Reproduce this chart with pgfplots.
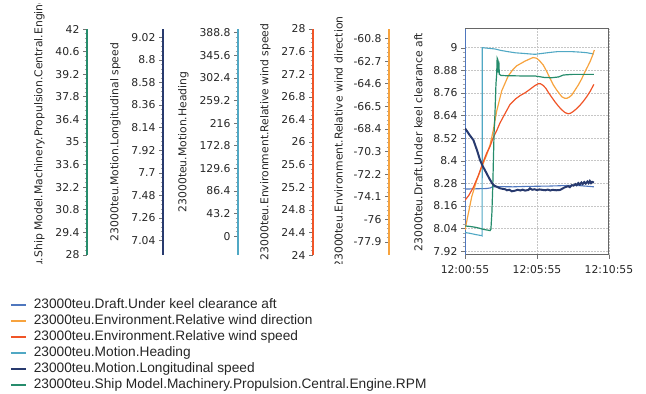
\documentclass[border=0pt]{standalone}
\usepackage{pgfplots}
\pgfplotsset{compat=1.18}
\usepackage{fontspec}
\setmainfont{DejaVu Sans}
\newfontfamily\legfont{Liberation Sans}
\definecolor{draftc}{RGB}{79,119,190}
\definecolor{dirc}{RGB}{247,163,62}
\definecolor{spdc}{RGB}{240,85,40}
\definecolor{headc}{RGB}{80,168,196}
\definecolor{longc}{RGB}{40,58,110}
\definecolor{rpmc}{RGB}{38,140,108}
\newcommand{\axfont}{\fontsize{10.8}{12.5}\selectfont}
\pgfplotsset{
  sideaxis/.style={scale only axis, width=20pt, height=226pt, anchor=south west,
    xmin=0, xmax=1, axis x line=none, axis y line=left,
    y axis line style={-, draw=#1, line width=1.6pt},
    tick align=outside, major tick length=4pt, minor tick length=2.5pt, minor y tick num=4,
    major tick style={black!55, line width=0.6pt}, minor tick style={black!35, line width=0.5pt},
    yticklabel style={font=\axfont, text=black!85},
    ylabel style={font=\axfont, text=black!85}, ylabel shift=4pt,
  },
  overlay/.style={at={(465pt,139pt)}, anchor=south west, scale only axis,
    width=144pt, height=226pt, xmin=0, xmax=600, hide axis},
}
\begin{document}
\begin{tikzpicture}[x=1pt,y=1pt]
\useasboundingbox (0,0) rectangle (646,394);
\begin{scope}
\clip (0,130) rectangle (462,390);
% RPM axis
\begin{axis}[sideaxis=rpmc, at={(87pt,139pt)}, ymin=28, ymax=42,
  ytick={28,29.4,30.8,32.2,33.6,35,36.4,37.8,39.2,40.6,42},
  yticklabels={28,29.4,30.8,32.2,33.6,35,36.4,37.8,39.2,40.6,42},
  ylabel={23000teu.Ship Model.Machinery.Propulsion.Central.Engine.RPM}]
\end{axis}
% Longitudinal speed axis
\begin{axis}[sideaxis=longc, at={(163pt,139pt)}, ymin=6.9, ymax=9.1,
  ytick={7.04,7.26,7.48,7.7,7.92,8.14,8.36,8.58,8.8,9.02},
  yticklabels={7.04,7.26,7.48,7.7,7.92,8.14,8.36,8.58,8.8,9.02},
  ylabel={23000teu.Motion.Longitudinal speed}]
\end{axis}
% Heading axis
\begin{axis}[sideaxis=headc, at={(238pt,139pt)}, ymin=-36, ymax=396,
  ytick={0,43.2,86.4,129.6,172.8,216,259.2,302.4,345.6,388.8},
  yticklabels={0,43.2,86.4,129.6,172.8,216,259.2,302.4,345.6,388.8},
  ylabel={23000teu.Motion.Heading}]
\end{axis}
% Relative wind speed axis
\begin{axis}[sideaxis=spdc, at={(313pt,139pt)}, ymin=24, ymax=28,
  ytick={24,24.4,24.8,25.2,25.6,26,26.4,26.8,27.2,27.6,28},
  yticklabels={24,24.4,24.8,25.2,25.6,26,26.4,26.8,27.2,27.6,28},
  ylabel={23000teu.Environment.Relative wind speed}]
\end{axis}
% Relative wind direction axis
\begin{axis}[sideaxis=dirc, at={(389pt,139pt)}, ymin=-79, ymax=-60,
  ytick={-77.9,-76,-74.1,-72.2,-70.3,-68.4,-66.5,-64.6,-62.7,-60.8},
  yticklabels={-77.9,-76,-74.1,-72.2,-70.3,-68.4,-66.5,-64.6,-62.7,-60.8},
  ylabel={23000teu.Environment.Relative wind direction}]
\end{axis}
\end{scope}
% Main axis: draft
\begin{axis}[at={(465pt,139pt)}, anchor=south west, scale only axis,
  width=144pt, height=226pt, xmin=0, xmax=600, ymin=7.9, ymax=9.1,
  xtick={0,300,600}, xticklabels={12:00:55,12:05:55,12:10:55},
  ytick={7.92,8.04,8.16,8.28,8.4,8.52,8.64,8.76,8.88,9},
  yticklabels={7.92,8.04,8.16,8.28,8.4,8.52,8.64,8.76,8.88,9},
  xtick pos=bottom, ytick pos=left, tick align=outside,
  major tick length=4pt, minor tick length=2.5pt, minor y tick num=4,
  major tick style={black!55, line width=0.6pt}, minor tick style={black!35, line width=0.5pt},
  grid=major, grid style={gray!45, line width=0.9pt, dash pattern=on 2pt off 1pt},
  axis line style={black!60, line width=1pt},
  ticklabel style={font=\axfont, text=black!85},
  xticklabel style={yshift=-3pt},
  ylabel style={font=\axfont, text=black!85}, ylabel shift=4pt,
  ylabel={23000teu.Draft.Under keel clearance aft}]
\addplot[draftc, line width=1.1pt] coordinates {(0,8.25) (30,8.251) (60,8.252) (90,8.253) (105,8.256) (115,8.262) (150,8.263) (200,8.262) (250,8.264) (300,8.265) (350,8.266) (400,8.268) (450,8.27) (480,8.268) (510,8.265) (537,8.262)};
\draw[draftc, line width=1.8pt] (rel axis cs:0,0) -- (rel axis cs:0,1);
\end{axis}
% Heading
\begin{axis}[overlay, ymin=-36, ymax=396]
\addplot[headc, line width=1.1pt] coordinates {(0,7) (20,5.5) (45,3) (70,1) (71.5,0.5) (72,360.3) (100,359) (125,357.8) (150,355) (180,352.6) (210,350.5) (236,349.6) (265,348.5) (292,347.6) (326,349.6) (350,351) (382,352.6) (420,352.8) (450,352.6) (480,351.8) (507,350.7) (537,348.2)};
\end{axis}
% Wind direction
\begin{axis}[overlay, ymin=-79, ymax=-60]
\addplot[dirc, line width=1.2pt] coordinates {(0,-76.9) (14,-75.5) (28,-74.1) (49,-72.7) (70,-71.6) (90,-70.6) (105,-69.7) (118,-68.5) (132,-66.9) (153,-65.2) (180,-63.95) (200,-63.4) (215,-63.1) (250,-62.7) (283,-62.4) (299,-62.46) (312,-62.7) (326,-63.03) (340,-63.55) (354,-64.14) (368,-64.7) (382,-65.13) (403,-65.69) (415,-65.82) (424,-65.83) (435,-65.72) (445,-65.55) (458,-65.15) (472,-64.71) (486,-64.2) (500,-63.59) (510,-63.2) (521,-62.75) (530,-62.3) (539,-61.77)};
\end{axis}
% Wind speed
\begin{axis}[overlay, ymin=24, ymax=28]
\addplot[spdc, line width=1.2pt] coordinates {(0,24.97) (15,25.05) (35,25.2) (55,25.4) (76,25.65) (90,25.8) (104,25.92) (118,26.08) (132,26.2) (145,26.33) (160,26.45) (187,26.66) (210,26.76) (229,26.82) (250,26.87) (270,26.93) (292,27.0) (305,27.03) (315,27.03) (326,27.0) (337,26.95) (347,26.88) (360,26.8) (375,26.71) (390,26.63) (403,26.57) (417,26.52) (430,26.5) (440,26.51) (451,26.54) (465,26.59) (479,26.65) (493,26.72) (507,26.8) (522,26.9) (537,27.02)};
\end{axis}
% RPM
\begin{axis}[overlay, ymin=28, ymax=42]
\addplot[rpmc, line width=1.2pt] coordinates {(0,29.8) (20,29.77) (42,29.72) (60,29.66) (76,29.59) (95,29.54) (104,29.51) (108,29.6) (112,30.6) (116,32.4) (121,35.5) (125,36.8) (129,38.6) (132,39.2) (134,40.2) (137,40.1) (139,39.3) (141,40.0) (143,39.2) (150,39.12) (167,39.11) (200,39.1) (250,39.09) (292,39.09) (330,39.0) (360,38.98) (390,39.03) (410,39.15) (450,39.19) (500,39.19) (537,39.19)};
\end{axis}
% Longitudinal speed
\begin{axis}[overlay, ymin=6.9, ymax=9.1]
\addplot[longc, line width=2pt] coordinates {(0,8.133) (10,8.10) (20,8.065) (35,8.019) (50,7.92) (62.5,7.825) (75,7.76) (90,7.695) (100,7.65) (113,7.598) (122,7.575) (132,7.565) (145,7.55) (155,7.545) (167,7.540) (175,7.53) (185,7.535) (195,7.52) (208,7.526) (220,7.535) (230,7.528) (240,7.536) (250,7.527) (264,7.533) (271,7.549) (280,7.535) (290,7.54) (300,7.532) (310,7.538) (325,7.533) (335,7.53) (345,7.537) (355,7.528) (365,7.534) (380,7.53) (396,7.533) (405,7.545) (415,7.558) (424,7.565) (430,7.57) (437,7.56) (445,7.58) (452,7.575) (460,7.59) (465,7.58) (472,7.6) (478,7.585) (485,7.605) (490,7.59) (497,7.61) (503,7.595) (510,7.615) (515,7.6) (520,7.62) (525,7.6) (530,7.612) (537,7.605)};
\end{axis}
% Legend
\begin{axis}[hide axis, scale only axis, at={(10pt,0pt)}, anchor=south west,
  width=300pt, height=97pt, xmin=0, xmax=1, ymin=0, ymax=1,
  legend cell align=left,
  legend style={at={(0,1)}, anchor=north west, draw=none, fill=none,
    inner sep=0pt, outer sep=0pt, row sep=0pt,
    font=\legfont\fontsize{13.7}{15}\selectfont, text=black!85,
    nodes={inner sep=0pt, text height=11.5pt, text depth=4.5pt},
    /tikz/every odd column/.append style={column sep=7pt}},
  legend image code/.code={\draw[#1, line width=1.8pt] (0pt,0pt) -- (15pt,0pt);}]
\addlegendimage{draftc}
\addlegendentry{23000teu.Draft.Under keel clearance aft}
\addlegendimage{dirc}
\addlegendentry{23000teu.Environment.Relative wind direction}
\addlegendimage{spdc}
\addlegendentry{23000teu.Environment.Relative wind speed}
\addlegendimage{headc}
\addlegendentry{23000teu.Motion.Heading}
\addlegendimage{longc}
\addlegendentry{23000teu.Motion.Longitudinal speed}
\addlegendimage{rpmc}
\addlegendentry{23000teu.Ship Model.Machinery.Propulsion.Central.Engine.RPM}
\end{axis}
\end{tikzpicture}
\end{document}
